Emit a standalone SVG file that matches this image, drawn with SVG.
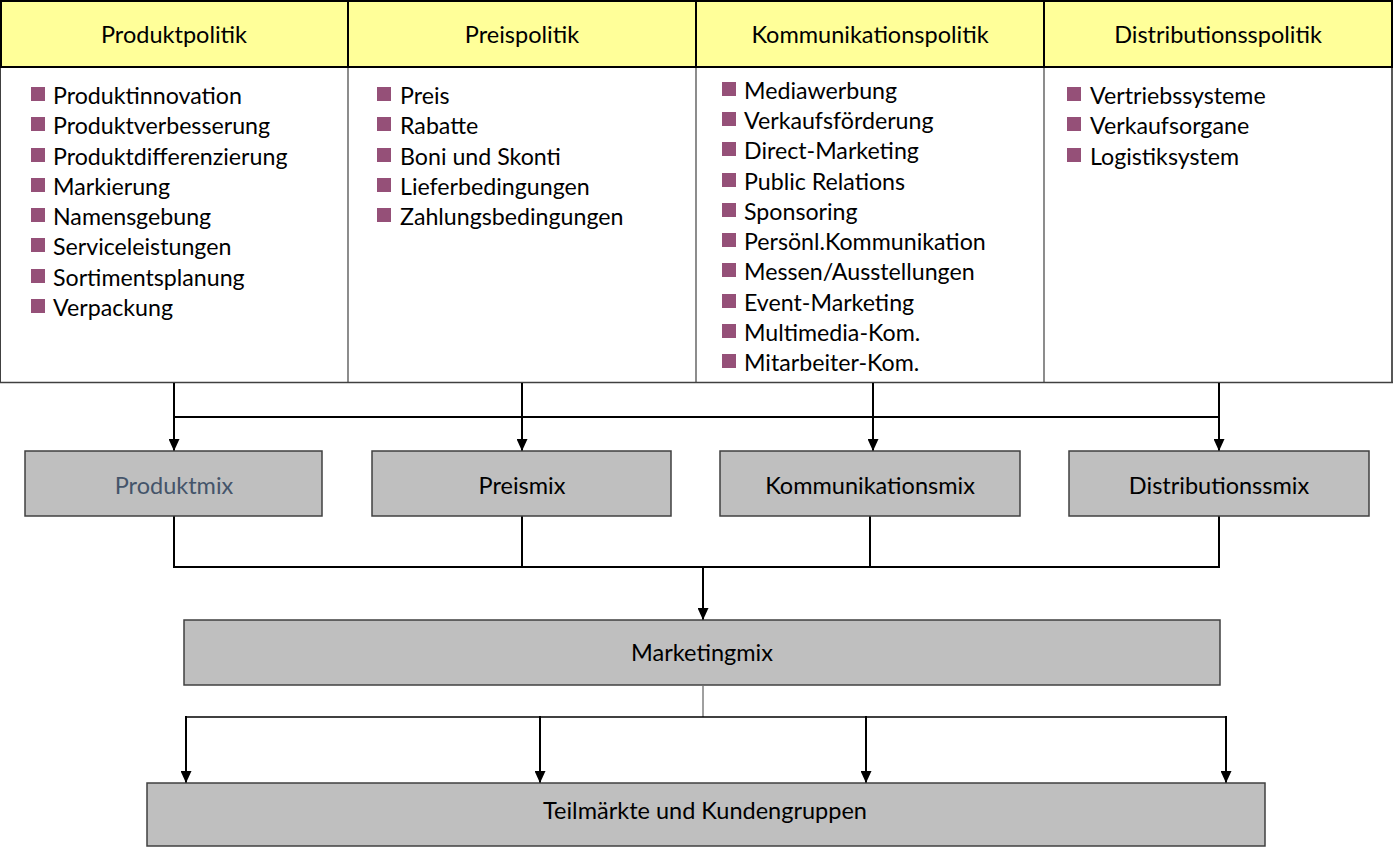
<svg xmlns="http://www.w3.org/2000/svg" width="1396" height="865" viewBox="0 0 1396 865">
<style>
  .hdr { fill: #FFFF99; stroke: none; }
  .body { fill: #FFFFFF; stroke: none; }
  .ht { font-family: Lato, "Liberation Sans", sans-serif; font-size: 23.5px; fill: #000; text-anchor: middle; }
  .it { font-family: Lato, "Liberation Sans", sans-serif; font-size: 23.2px; fill: #000; }
  .bul { fill: #955078; }
  .box { fill: #BFBFBF; stroke: #404040; stroke-width: 1.5; }
  .bt { font-family: Lato, "Liberation Sans", sans-serif; font-size: 23.5px; fill: #000; text-anchor: middle; }
  .con { fill: none; stroke: #000; stroke-width: 2; }
  .thin { fill: none; stroke: #404040; stroke-width: 1; }
</style>
<defs>
  <marker id="ah" viewBox="0 0 12 11" refX="12" refY="5.5" markerWidth="12" markerHeight="11" markerUnits="userSpaceOnUse" orient="auto">
    <path d="M0,0 L12,5.5 L0,11 Z" fill="#000"/>
  </marker>
</defs>
<rect x="0" y="0" width="1396" height="865" fill="#FFFFFF"/>

<g id="table">
  <rect class="hdr" x="1" y="1" width="1391" height="66"/>
  <rect class="body" x="1" y="67" width="1391" height="315"/>
  <line x1="348" y1="67" x2="348" y2="382" stroke="#404040" stroke-width="1.2"/>
  <line x1="696" y1="67" x2="696" y2="382" stroke="#404040" stroke-width="1.2"/>
  <line x1="1044" y1="67" x2="1044" y2="382" stroke="#404040" stroke-width="1.2"/>
  <line x1="0.5" y1="67" x2="0.5" y2="382" stroke="#404040" stroke-width="1"/>
  <line x1="1392" y1="67" x2="1392" y2="382" stroke="#202020" stroke-width="1.5"/>
  <line x1="0" y1="382.5" x2="1393" y2="382.5" stroke="#404040" stroke-width="1.5"/>
  <rect x="1" y="1" width="1391" height="66" fill="none" stroke="#000" stroke-width="2"/>
  <line x1="348" y1="1" x2="348" y2="67" stroke="#000" stroke-width="2"/>
  <line x1="696" y1="1" x2="696" y2="67" stroke="#000" stroke-width="2"/>
  <line x1="1044" y1="1" x2="1044" y2="67" stroke="#000" stroke-width="2"/>
</g>

<g id="produktpolitik">
  <text class="ht" x="174" y="43">Produktpolitik</text>
  <rect class="bul" x="31" y="87" width="14" height="14"/><text class="it" x="53" y="103.5">Produktinnovation</text>
  <rect class="bul" x="31" y="117" width="14" height="14"/><text class="it" x="53" y="133.5">Produktverbesserung</text>
  <rect class="bul" x="31" y="148" width="14" height="14"/><text class="it" x="53" y="164.5">Produktdifferenzierung</text>
  <rect class="bul" x="31" y="178" width="14" height="14"/><text class="it" x="53" y="194.5">Markierung</text>
  <rect class="bul" x="31" y="208" width="14" height="14"/><text class="it" x="53" y="224.5">Namensgebung</text>
  <rect class="bul" x="31" y="238" width="14" height="14"/><text class="it" x="53" y="254.5">Serviceleistungen</text>
  <rect class="bul" x="31" y="269" width="14" height="14"/><text class="it" x="53" y="285.5">Sortimentsplanung</text>
  <rect class="bul" x="31" y="299" width="14" height="14"/><text class="it" x="53" y="315.5">Verpackung</text>
</g>

<g id="preispolitik">
  <text class="ht" x="522" y="43">Preispolitik</text>
  <rect class="bul" x="377" y="87" width="14" height="14"/><text class="it" x="400" y="103.5">Preis</text>
  <rect class="bul" x="377" y="117" width="14" height="14"/><text class="it" x="400" y="133.5">Rabatte</text>
  <rect class="bul" x="377" y="148" width="14" height="14"/><text class="it" x="400" y="164.5">Boni und Skonti</text>
  <rect class="bul" x="377" y="178" width="14" height="14"/><text class="it" x="400" y="194.5">Lieferbedingungen</text>
  <rect class="bul" x="377" y="208" width="14" height="14"/><text class="it" x="400" y="224.5">Zahlungsbedingungen</text>
</g>

<g id="kommunikationspolitik">
  <text class="ht" x="870" y="43">Kommunikationspolitik</text>
  <rect class="bul" x="722" y="82" width="14" height="14"/><text class="it" x="744" y="98.5">Mediawerbung</text>
  <rect class="bul" x="722" y="112" width="14" height="14"/><text class="it" x="744" y="128.5">Verkaufsförderung</text>
  <rect class="bul" x="722" y="142" width="14" height="14"/><text class="it" x="744" y="158.5">Direct-Marketing</text>
  <rect class="bul" x="722" y="173" width="14" height="14"/><text class="it" x="744" y="189.5">Public Relations</text>
  <rect class="bul" x="722" y="203" width="14" height="14"/><text class="it" x="744" y="219.5">Sponsoring</text>
  <rect class="bul" x="722" y="233" width="14" height="14"/><text class="it" x="744" y="249.5">Persönl.Kommunikation</text>
  <rect class="bul" x="722" y="263" width="14" height="14"/><text class="it" x="744" y="279.5">Messen/Ausstellungen</text>
  <rect class="bul" x="722" y="294" width="14" height="14"/><text class="it" x="744" y="310.5">Event-Marketing</text>
  <rect class="bul" x="722" y="324" width="14" height="14"/><text class="it" x="744" y="340.5">Multimedia-Kom.</text>
  <rect class="bul" x="722" y="354" width="14" height="14"/><text class="it" x="744" y="370.5">Mitarbeiter-Kom.</text>
</g>

<g id="distributionspolitik">
  <text class="ht" x="1218" y="43">Distributionsspolitik</text>
  <rect class="bul" x="1067" y="87" width="14" height="14"/><text class="it" x="1090" y="103.5">Vertriebssysteme</text>
  <rect class="bul" x="1067" y="117" width="14" height="14"/><text class="it" x="1090" y="133.5">Verkaufsorgane</text>
  <rect class="bul" x="1067" y="148" width="14" height="14"/><text class="it" x="1090" y="164.5">Logistiksystem</text>
</g>

<g id="connectors">
  <line class="con" x1="174" y1="383" x2="174" y2="451" marker-end="url(#ah)"/>
  <line class="con" x1="174" y1="417" x2="1219" y2="417"/>
  <line class="con" x1="522" y1="383" x2="522" y2="451" marker-end="url(#ah)"/>
  <line class="con" x1="873" y1="383" x2="873" y2="451" marker-end="url(#ah)"/>
  <line class="con" x1="1219" y1="383" x2="1219" y2="451" marker-end="url(#ah)"/>
  <polyline class="con" points="174,516 174,567 1219,567 1219,516"/>
  <line class="con" x1="522" y1="516" x2="522" y2="567"/>
  <line class="con" x1="870" y1="516" x2="870" y2="567"/>
  <line class="con" x1="703" y1="567" x2="703" y2="620" marker-end="url(#ah)"/>
  <line class="thin" x1="703" y1="686" x2="703" y2="717"/>
  <line x1="186" y1="717" x2="1226" y2="717" stroke="#000" stroke-width="1.5"/>
  <line class="con" x1="186" y1="716" x2="186" y2="783" marker-end="url(#ah)"/>
  <line class="con" x1="540" y1="716" x2="540" y2="783" marker-end="url(#ah)"/>
  <line class="con" x1="866" y1="716" x2="866" y2="783" marker-end="url(#ah)"/>
  <line class="con" x1="1226" y1="716" x2="1226" y2="783" marker-end="url(#ah)"/>
</g>

<g id="produktmix">
  <rect class="box" x="25" y="451" width="297" height="65"/>
  <text class="bt" x="174" y="494" style="fill:#44546A">Produktmix</text>
</g>
<g id="preismix">
  <rect class="box" x="372" y="451" width="299" height="65"/>
  <text class="bt" x="522" y="494">Preismix</text>
</g>
<g id="kommunikationsmix">
  <rect class="box" x="720" y="451" width="300" height="65"/>
  <text class="bt" x="870" y="494">Kommunikationsmix</text>
</g>
<g id="distributionsmix">
  <rect class="box" x="1069" y="451" width="300" height="65"/>
  <text class="bt" x="1219" y="494">Distributionssmix</text>
</g>
<g id="marketingmix">
  <rect class="box" x="184" y="620" width="1036" height="65"/>
  <text class="bt" x="702" y="661">Marketingmix</text>
</g>
<g id="teilmaerkte">
  <rect class="box" x="147" y="783" width="1118" height="63"/>
  <text class="bt" x="705" y="819">Teilmärkte und Kundengruppen</text>
</g>
</svg>
